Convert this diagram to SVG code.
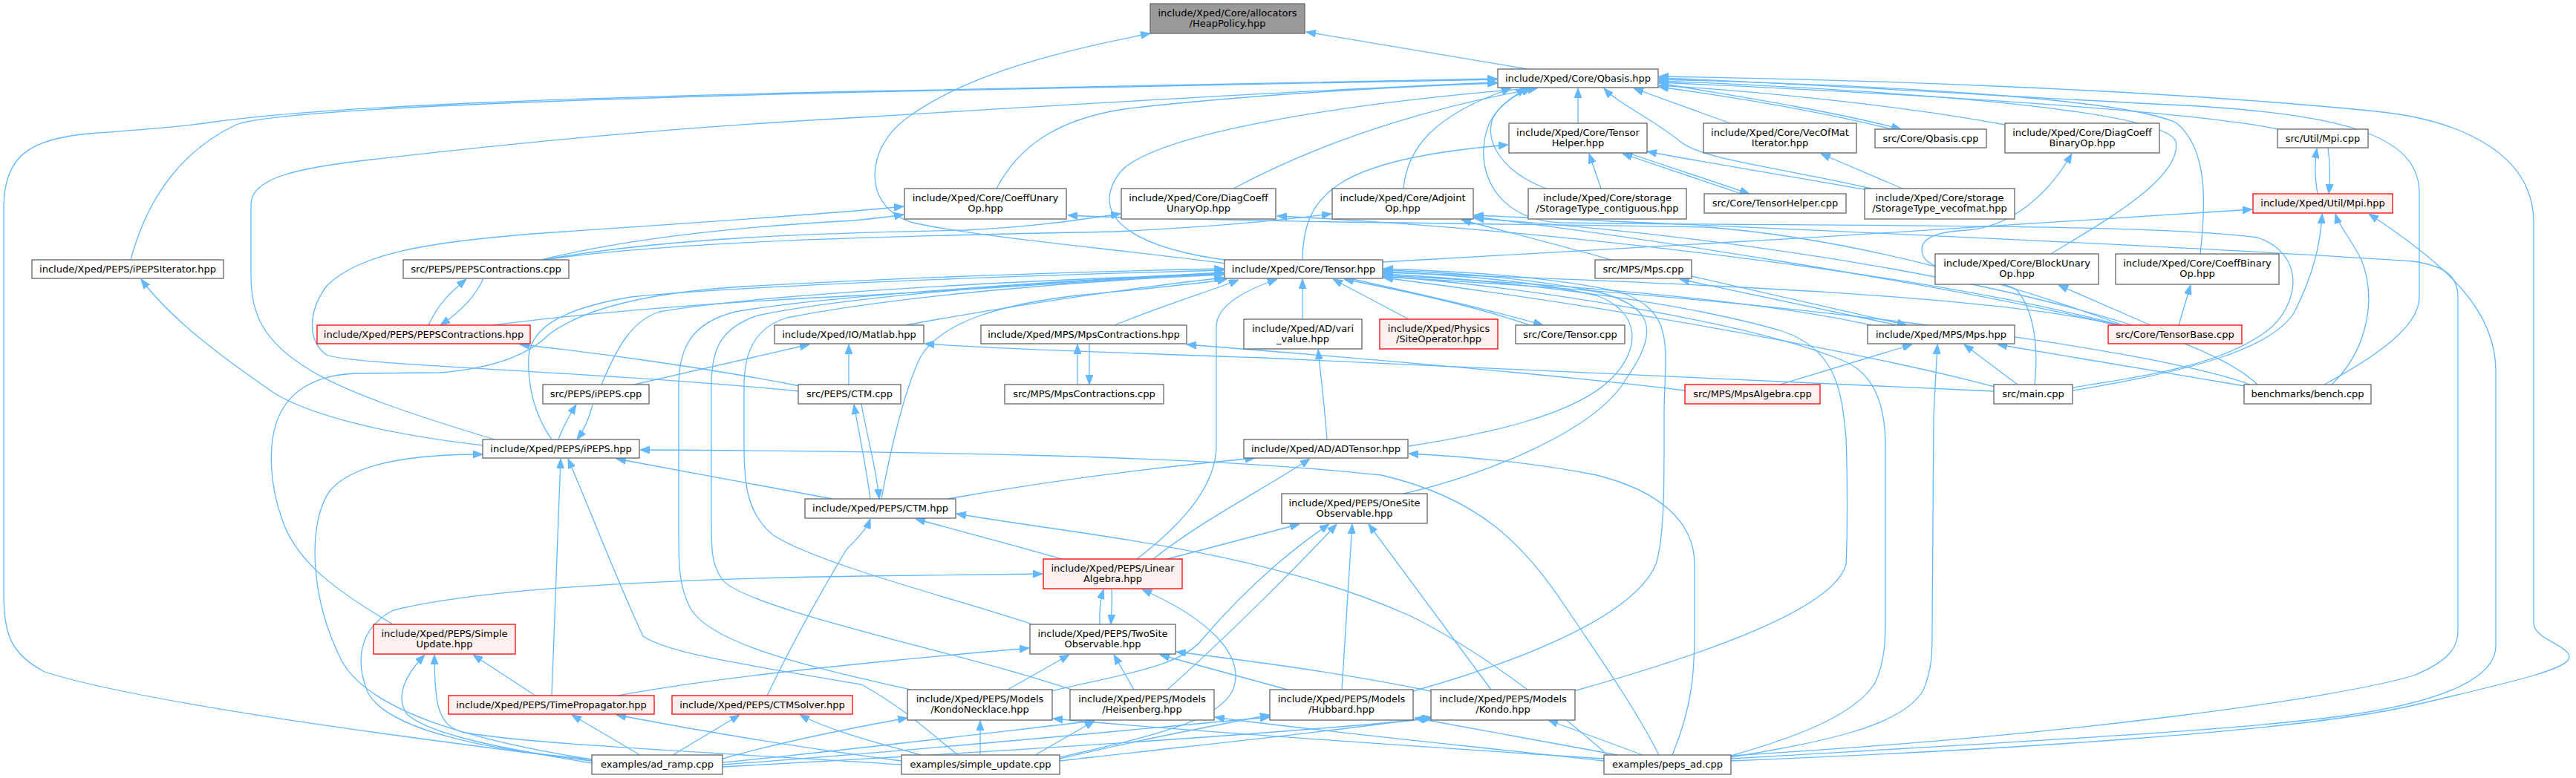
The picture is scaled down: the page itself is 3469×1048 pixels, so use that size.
<svg xmlns="http://www.w3.org/2000/svg" width="3469" height="1048" viewBox="0 0 3469 1048">
<defs>
<style>
.nd rect{fill:#ffffff;stroke:#666666;stroke-width:1.3}
.rd rect{fill:#fff0f0;stroke:#ff0000;stroke-width:1.3}
.hp rect{fill:#999999;stroke:#666666;stroke-width:1.3}
text{font-family:"DejaVu Sans","Liberation Sans",sans-serif;font-size:13px;text-anchor:middle;fill:#000000}
#edges path{fill:none;stroke:#63b8ff;stroke-width:1.3;marker-end:url(#a)}
</style>
<marker id="a" viewBox="0 0 13 10" refX="13" refY="5" markerWidth="13" markerHeight="10" markerUnits="userSpaceOnUse" orient="auto"><path d="M0,0 L13,5 L0,10 z" fill="#63b8ff" stroke="#63b8ff" stroke-width="1"/></marker>
</defs>
<rect x="0" y="0" width="3469" height="1048" fill="#ffffff"/>
<g id="edges">
<path d="M2057,93 L1759,43"/>
<path d="M1651,355 C1500,335 1320,320 1230,300 C1160,280 1165,200 1220,160 C1300,100 1430,68 1549,45"/>
<path d="M176,350 C200,260 250,200 318,168 C360,152 600,138 1160,124 C1500,116 1800,111 2016,107"/>
<path d="M797,1025 C600,1000 200,950 60,905 C12,880 5,850 5,800 L5,280 C5,210 40,187 120,180 C200,174 240,171 290,164 C450,142 800,131 1160,123 C1500,116 1800,111 2016,106"/>
<path d="M666,592 C560,560 470,530 420,500 C352,460 338,420 338,372 L338,275 C338,240 400,226 500,215 C700,192 900,172 1160,158 C1500,137 1800,120 2016,111"/>
<path d="M1342,254 C1370,200 1420,160 1520,146 C1700,126 1900,116 2016,112"/>
<path d="M1661,254 C1800,180 1950,140 2070,119"/>
<path d="M1890,254 C1895,200 1930,155 2035,119"/>
<path d="M1655,351 C1500,330 1470,280 1510,230 C1560,180 1800,140 2060,119"/>
<path d="M2125,166 L2125,119"/>
<path d="M2082,254 C2020,230 2000,190 2010,160 C2020,140 2040,128 2062,119"/>
<path d="M2520,254 C2400,226 2290,215 2262,190 C2225,160 2180,140 2160,119"/>
<path d="M2330,166 L2200,119"/>
<path d="M2548,174 C2450,150 2330,130 2234,117"/>
<path d="M2234,112 C2330,128 2470,150 2560,174"/>
<path d="M2700,168 C2550,140 2350,122 2234,115"/>
<path d="M3068,174 C2950,150 2600,128 2234,111"/>
<path d="M2762,342 C2830,300 2940,240 2930,190 C2910,150 2600,124 2234,109"/>
<path d="M2963,342 C2970,280 2975,200 2930,165 C2850,130 2500,114 2234,107"/>
<path d="M3130,518 C3200,480 3258,440 3258,400 L3258,260 C3258,180 3150,150 2900,140 C2600,124 2400,111 2234,105"/>
<path d="M2331,1025 C2700,1010 3100,985 3250,950 C3400,915 3460,900 3460,885 C3460,870 3412,860 3412,840 L3412,300 C3412,200 3300,160 3200,150 C2900,120 2500,107 2234,103"/>
<path d="M2791,522 C2900,505 3000,490 3060,440 C3100,400 3100,340 3040,320 C2900,300 2400,305 2100,300 C2020,295 1995,240 1998,200 C2000,160 2020,140 2055,119"/>
<path d="M1754,350 C1755,260 1800,215 2031,195"/>
<path d="M2156,254 L2140,207"/>
<path d="M2345,261 L2185,207"/>
<path d="M2192,206 L2356,261"/>
<path d="M2515,256 C2400,235 2300,220 2218,204"/>
<path d="M2562,254 L2452,207"/>
<path d="M2740,518 C2745,470 2740,420 2717,392 C2700,375 2600,370 2590,345 C2580,320 2610,312 2650,310 C2710,305 2760,260 2790,207"/>
<path d="M3121,261 C3117,240 3117,220 3120,200"/>
<path d="M3135,199 C3138,220 3138,240 3136,261"/>
<path d="M1862,353 C2200,335 2700,305 3033,282"/>
<path d="M2792,526 C2950,500 3060,470 3090,420 C3115,370 3125,330 3127,288"/>
<path d="M3140,518 C3190,470 3200,400 3180,350 C3165,320 3150,305 3145,288"/>
<path d="M2331,1022 C2700,1000 3000,985 3150,965 C3300,945 3361,910 3361,870 L3361,500 C3361,420 3300,360 3190,288"/>
<path d="M2331,1018 C2800,990 3150,940 3250,910 C3300,890 3310,870 3310,850 L3310,400 C3310,370 3290,358 3250,352 C3000,335 2500,312 1985,290"/>
<path d="M2896,438 L2772,384"/>
<path d="M2934,438 L2950,384"/>
<path d="M2717,518 L2645,464"/>
<path d="M2397,518 L2575,464"/>
<path d="M2331,1020 C2450,1000 2560,980 2590,930 C2602,900 2602,880 2602,850 L2604,560 L2609,464"/>
<path d="M3023,520 L2690,464"/>
<path d="M2555,438 L2262,376"/>
<path d="M2278,372 L2568,438"/>
<path d="M2170,350 C2100,330 2020,310 1968,296"/>
<path d="M664,438 C800,420 1000,405 1160,398 C1350,388 1500,376 1648,368"/>
<path d="M529,841 C460,800 400,760 380,700 C362,650 362,600 372,570 C385,530 420,505 480,503 L592,502 C680,495 720,470 740,450 C780,420 860,395 1000,386 C1200,375 1450,366 1648,362"/>
<path d="M810,518 C830,470 850,432 888,420 C1000,400 1300,380 1648,369"/>
<path d="M743,592 C720,560 710,520 712,480 C715,440 760,415 850,400 C1000,385 1350,372 1648,364"/>
<path d="M1226,929 C1100,900 960,870 930,820 C914,790 914,760 914,720 L914,520 C914,470 930,435 990,420 C1100,400 1400,380 1648,367"/>
<path d="M1443,929 C1300,880 1000,820 972,780 C958,760 958,740 958,700 L958,520 C958,470 970,442 1020,425 C1150,398 1400,380 1648,368"/>
<path d="M1390,841 C1300,810 1100,760 1040,720 C1005,690 1002,650 1002,600 L1002,520 C1002,470 1020,440 1060,428 C1200,400 1450,378 1648,370"/>
<path d="M1219,438 C1400,405 1550,385 1648,374"/>
<path d="M1501,438 C1570,410 1630,392 1668,377"/>
<path d="M1754,430 L1754,376"/>
<path d="M1897,430 L1795,376"/>
<path d="M2060,438 C1980,410 1880,390 1810,376"/>
<path d="M1818,375 C1890,392 1990,412 2078,438"/>
<path d="M1897,601 C2000,585 2120,560 2170,510 C2210,470 2210,420 2150,398 C2050,376 1950,370 1863,366"/>
<path d="M1890,665 C2000,640 2150,580 2190,510 C2240,440 2220,410 2150,393 C2050,373 1950,367 1863,364"/>
<path d="M1903,931 C2050,890 2200,830 2230,760 C2242,720 2241,650 2241,560 C2241,470 2260,420 2180,393 C2080,371 1950,365 1863,362"/>
<path d="M2119,931 C2300,880 2470,820 2486,760 C2488,720 2488,640 2486,590 C2480,520 2470,470 2400,446 C2250,402 2000,376 1863,369"/>
<path d="M2331,1018 C2430,990 2500,960 2525,920 C2539,890 2539,860 2539,830 L2539,600 C2539,540 2520,500 2480,485 C2350,432 2050,386 1863,372"/>
<path d="M1531,753 C1600,700 1638,650 1638,600 L1638,440 C1638,410 1680,390 1720,376"/>
<path d="M1187,672 C1200,600 1220,520 1240,480 C1270,432 1350,410 1450,398 C1550,388 1620,382 1652,376"/>
<path d="M2520,438 C2350,400 2050,380 1863,371"/>
<path d="M2850,438 C2700,400 2300,382 1863,367"/>
<path d="M2853,438 C2600,380 2200,318 1985,292"/>
<path d="M2856,438 C2600,370 2100,310 1720,291"/>
<path d="M2859,438 C2700,380 2500,322 2300,306 C2000,301 1600,298 1438,290"/>
<path d="M2685,527 C2400,515 2000,495 1700,482 C1500,475 1350,470 1245,463"/>
<path d="M2686,521 C2600,498 2300,430 1863,374"/>
<path d="M2269,526 C2100,505 1800,480 1598,464"/>
<path d="M3030,518 C2900,470 2400,402 1863,373"/>
<path d="M3040,518 C2950,430 2500,330 1985,294"/>
<path d="M1121,672 L830,618"/>
<path d="M1276,672 C1400,650 1550,630 1690,617"/>
<path d="M1172,672 C1165,620 1156,580 1150,545"/>
<path d="M1160,544 C1168,590 1180,630 1184,672"/>
<path d="M1077,520 C950,495 800,475 700,464"/>
<path d="M1143,518 L1143,464"/>
<path d="M1077,527 C800,500 470,492 440,478 C414,460 414,420 440,385 C480,345 560,325 760,312 C1000,296 1150,285 1217,278"/>
<path d="M752,592 C760,570 768,558 776,545"/>
<path d="M798,545 C793,565 786,580 777,592"/>
<path d="M854,518 L1090,464"/>
<path d="M651,600 C520,585 420,560 370,530 C300,482 230,430 190,376"/>
<path d="M743,937 L755,618"/>
<path d="M797,1023 C650,1000 500,962 460,890 C415,800 415,700 445,660 C480,622 560,612 650,612"/>
<path d="M1290,1017 C1250,985 1215,952 1160,922 C1000,895 900,880 866,857 C830,780 800,700 765,618"/>
<path d="M2234,1017 C2200,950 2150,880 2110,820 C2050,730 1990,670 1860,640 C1600,612 1200,608 862,606"/>
<path d="M2252,1017 C2280,950 2282,900 2282,850 L2282,760 C2282,700 2230,660 2150,640 C2050,620 1950,614 1897,611"/>
<path d="M2165,1017 C2100,960 2000,880 1900,830 C1700,740 1450,720 1288,692"/>
<path d="M2160,1022 C1900,1005 1600,985 1418,968"/>
<path d="M2160,1025 C1950,1002 1750,982 1636,966"/>
<path d="M2178,1017 L1905,967"/>
<path d="M2212,1017 L2085,970"/>
<path d="M1787,592 C1783,540 1778,500 1775,471"/>
<path d="M1553,753 C1620,700 1700,660 1764,618"/>
<path d="M1572,753 L1750,706"/>
<path d="M1416,931 C1500,910 1590,900 1620,860 C1680,790 1740,740 1790,706"/>
<path d="M1572,929 C1650,860 1750,760 1800,706"/>
<path d="M1807,929 L1821,706"/>
<path d="M2008,929 L1843,706"/>
<path d="M1430,753 C1350,730 1280,712 1233,699"/>
<path d="M797,1023 C650,1010 520,982 495,932 C475,882 490,842 530,822 C650,792 900,780 1160,776 C1250,775 1330,774 1404,773"/>
<path d="M1481,841 C1480,820 1482,807 1486,794"/>
<path d="M1497,794 C1498,810 1497,825 1496,841"/>
<path d="M1427,1020 C1550,992 1640,972 1660,930 C1680,880 1620,830 1538,794"/>
<path d="M832,937 C950,915 1100,900 1200,890 C1280,882 1340,877 1386,873"/>
<path d="M1357,929 L1440,882"/>
<path d="M1527,929 L1500,882"/>
<path d="M1734,929 L1562,882"/>
<path d="M1927,931 C1800,905 1680,890 1584,878"/>
<path d="M1320,1017 L1320,971"/>
<path d="M1394,1017 L1474,971"/>
<path d="M1427,1022 C1520,1000 1620,980 1710,963"/>
<path d="M1427,1025 C1600,1005 1800,985 1928,966"/>
<path d="M973,1022 C1050,1000 1150,980 1222,967"/>
<path d="M973,1027 C1150,1010 1350,985 1474,971"/>
<path d="M973,1030 C1250,1010 1500,985 1710,966"/>
<path d="M973,1033 C1300,1015 1700,990 1928,968"/>
<path d="M862,1017 L770,963"/>
<path d="M906,1017 L996,963"/>
<path d="M797,1028 C700,1012 580,992 548,962 C530,935 550,905 572,882"/>
<path d="M1214,1030 C1000,1016 700,1002 622,986 C590,976 585,950 585,882"/>
<path d="M1214,1025 C1100,1010 950,986 830,963"/>
<path d="M1240,1017 C1180,1000 1120,985 1077,963"/>
<path d="M721,937 L637,882"/>
<path d="M1033,937 C1070,860 1110,790 1140,740 C1160,720 1168,710 1172,699"/>
<path d="M577,438 C590,410 605,395 628,376"/>
<path d="M651,375 C640,400 620,420 593,438"/>
<path d="M729,350 C850,320 1000,305 1150,297 C1180,294 1200,292 1217,289"/>
<path d="M731,350 C900,320 1100,314 1300,310 C1400,305 1460,295 1509,288"/>
<path d="M733,350 C900,325 1200,318 1500,312 C1650,305 1740,295 1793,288"/>
<path d="M1451,518 L1451,464"/>
<path d="M1467,464 L1467,518"/>
</g>
<g id="n_heappolicy" class="hp"><rect x="1549" y="5" width="208" height="40"/><text x="1653" y="22">include/Xped/Core/allocators</text><text x="1653" y="36">/HeapPolicy.hpp</text></g>
<g id="n_qbasis" class="nd"><rect x="2017" y="93" width="216" height="25"/><text x="2125" y="110">include/Xped/Core/Qbasis.hpp</text></g>
<g id="n_tensorhelper" class="nd"><rect x="2032" y="166" width="186" height="40"/><text x="2125" y="183">include/Xped/Core/Tensor</text><text x="2125" y="197">Helper.hpp</text></g>
<g id="n_vecofmat" class="nd"><rect x="2294" y="166" width="206" height="40"/><text x="2397" y="183">include/Xped/Core/VecOfMat</text><text x="2397" y="197">Iterator.hpp</text></g>
<g id="n_qbasiscpp" class="nd"><rect x="2525" y="174" width="150" height="25"/><text x="2600" y="191">src/Core/Qbasis.cpp</text></g>
<g id="n_diagcoeffbinary" class="nd"><rect x="2700" y="166" width="208" height="40"/><text x="2804" y="183">include/Xped/Core/DiagCoeff</text><text x="2804" y="197">BinaryOp.hpp</text></g>
<g id="n_mpicpp" class="nd"><rect x="3067" y="174" width="122" height="25"/><text x="3128" y="191">src/Util/Mpi.cpp</text></g>
<g id="n_coeffunary" class="nd"><rect x="1218" y="254" width="218" height="41"/><text x="1327" y="271">include/Xped/Core/CoeffUnary</text><text x="1327" y="285">Op.hpp</text></g>
<g id="n_diagcoeffunary" class="nd"><rect x="1510" y="254" width="208" height="41"/><text x="1614" y="271">include/Xped/Core/DiagCoeff</text><text x="1614" y="285">UnaryOp.hpp</text></g>
<g id="n_adjoint" class="nd"><rect x="1794" y="254" width="190" height="41"/><text x="1889" y="271">include/Xped/Core/Adjoint</text><text x="1889" y="285">Op.hpp</text></g>
<g id="n_contiguous" class="nd"><rect x="2058" y="254" width="213" height="41"/><text x="2164.5" y="271">include/Xped/Core/storage</text><text x="2164.5" y="285">/StorageType_contiguous.hpp</text></g>
<g id="n_tensorhelpercpp" class="nd"><rect x="2295" y="261" width="191" height="26"/><text x="2390.5" y="278">src/Core/TensorHelper.cpp</text></g>
<g id="n_vecofmatstorage" class="nd"><rect x="2511" y="254" width="202" height="41"/><text x="2612" y="271">include/Xped/Core/storage</text><text x="2612" y="285">/StorageType_vecofmat.hpp</text></g>
<g id="n_mpihpp" class="rd"><rect x="3034" y="261" width="188" height="26"/><text x="3128" y="278">include/Xped/Util/Mpi.hpp</text></g>
<g id="n_ipepsiterator" class="nd"><rect x="43" y="350" width="258" height="25"/><text x="172" y="367">include/Xped/PEPS/iPEPSIterator.hpp</text></g>
<g id="n_pepscontrcpp" class="nd"><rect x="543" y="350" width="223" height="25"/><text x="654.5" y="367">src/PEPS/PEPSContractions.cpp</text></g>
<g id="n_tensor" class="nd"><rect x="1649" y="350" width="213" height="25"/><text x="1755.5" y="367">include/Xped/Core/Tensor.hpp</text></g>
<g id="n_mpscpp" class="nd"><rect x="2148" y="350" width="130" height="25"/><text x="2213" y="367">src/MPS/Mps.cpp</text></g>
<g id="n_blockunary" class="nd"><rect x="2606" y="342" width="220" height="41"/><text x="2716" y="359">include/Xped/Core/BlockUnary</text><text x="2716" y="373">Op.hpp</text></g>
<g id="n_coeffbinary" class="nd"><rect x="2849" y="342" width="220" height="41"/><text x="2959" y="359">include/Xped/Core/CoeffBinary</text><text x="2959" y="373">Op.hpp</text></g>
<g id="n_pepscontrhpp" class="rd"><rect x="427" y="438" width="287" height="25"/><text x="570.5" y="455">include/Xped/PEPS/PEPSContractions.hpp</text></g>
<g id="n_matlab" class="nd"><rect x="1043" y="438" width="201" height="25"/><text x="1143.5" y="455">include/Xped/IO/Matlab.hpp</text></g>
<g id="n_mpscontrhpp" class="nd"><rect x="1321" y="438" width="277" height="25"/><text x="1459.5" y="455">include/Xped/MPS/MpsContractions.hpp</text></g>
<g id="n_varivalue" class="nd"><rect x="1675" y="430" width="159" height="40"/><text x="1754.5" y="447">include/Xped/AD/vari</text><text x="1754.5" y="461">_value.hpp</text></g>
<g id="n_siteoperator" class="rd"><rect x="1858" y="430" width="159" height="40"/><text x="1937.5" y="447">include/Xped/Physics</text><text x="1937.5" y="461">/SiteOperator.hpp</text></g>
<g id="n_tensorcpp" class="nd"><rect x="2041" y="438" width="147" height="25"/><text x="2114.5" y="455">src/Core/Tensor.cpp</text></g>
<g id="n_mpshpp" class="nd"><rect x="2515" y="438" width="198" height="25"/><text x="2614" y="455">include/Xped/MPS/Mps.hpp</text></g>
<g id="n_tensorbase" class="rd"><rect x="2839" y="438" width="180" height="25"/><text x="2929" y="455">src/Core/TensorBase.cpp</text></g>
<g id="n_ipepscpp" class="nd"><rect x="731" y="518" width="143" height="26"/><text x="802.5" y="535">src/PEPS/iPEPS.cpp</text></g>
<g id="n_ctmcpp" class="nd"><rect x="1075" y="518" width="138" height="26"/><text x="1144" y="535">src/PEPS/CTM.cpp</text></g>
<g id="n_mpscontrcpp" class="nd"><rect x="1353" y="518" width="214" height="26"/><text x="1460" y="535">src/MPS/MpsContractions.cpp</text></g>
<g id="n_mpsalgebra" class="rd"><rect x="2269" y="518" width="182" height="26"/><text x="2360" y="535">src/MPS/MpsAlgebra.cpp</text></g>
<g id="n_main" class="nd"><rect x="2685" y="518" width="106" height="26"/><text x="2738" y="535">src/main.cpp</text></g>
<g id="n_bench" class="nd"><rect x="3022" y="518" width="171" height="26"/><text x="3107.5" y="535">benchmarks/bench.cpp</text></g>
<g id="n_ipepshpp" class="nd"><rect x="650" y="592" width="211" height="25"/><text x="755.5" y="609">include/Xped/PEPS/iPEPS.hpp</text></g>
<g id="n_adtensor" class="nd"><rect x="1675" y="592" width="221" height="25"/><text x="1785.5" y="609">include/Xped/AD/ADTensor.hpp</text></g>
<g id="n_ctmhpp" class="nd"><rect x="1084" y="672" width="203" height="26"/><text x="1185.5" y="689">include/Xped/PEPS/CTM.hpp</text></g>
<g id="n_onesite" class="nd"><rect x="1726" y="665" width="196" height="40"/><text x="1824" y="682">include/Xped/PEPS/OneSite</text><text x="1824" y="696">Observable.hpp</text></g>
<g id="n_linalg" class="rd"><rect x="1405" y="753" width="187" height="40"/><text x="1498.5" y="770">include/Xped/PEPS/Linear</text><text x="1498.5" y="784">Algebra.hpp</text></g>
<g id="n_simpleupdate" class="rd"><rect x="503" y="841" width="191" height="40"/><text x="598.5" y="858">include/Xped/PEPS/Simple</text><text x="598.5" y="872">Update.hpp</text></g>
<g id="n_twosite" class="nd"><rect x="1387" y="841" width="196" height="40"/><text x="1485" y="858">include/Xped/PEPS/TwoSite</text><text x="1485" y="872">Observable.hpp</text></g>
<g id="n_timeprop" class="rd"><rect x="604" y="937" width="277" height="25"/><text x="742.5" y="954">include/Xped/PEPS/TimePropagator.hpp</text></g>
<g id="n_ctmsolver" class="rd"><rect x="905" y="937" width="243" height="25"/><text x="1026.5" y="954">include/Xped/PEPS/CTMSolver.hpp</text></g>
<g id="n_kondonecklace" class="nd"><rect x="1222" y="929" width="195" height="41"/><text x="1319.5" y="946">include/Xped/PEPS/Models</text><text x="1319.5" y="960">/KondoNecklace.hpp</text></g>
<g id="n_heisenberg" class="nd"><rect x="1441" y="929" width="194" height="41"/><text x="1538" y="946">include/Xped/PEPS/Models</text><text x="1538" y="960">/Heisenberg.hpp</text></g>
<g id="n_hubbard" class="nd"><rect x="1710" y="929" width="193" height="41"/><text x="1806.5" y="946">include/Xped/PEPS/Models</text><text x="1806.5" y="960">/Hubbard.hpp</text></g>
<g id="n_kondo" class="nd"><rect x="1927" y="929" width="194" height="41"/><text x="2024" y="946">include/Xped/PEPS/Models</text><text x="2024" y="960">/Kondo.hpp</text></g>
<g id="n_adramp" class="nd"><rect x="797" y="1017" width="176" height="26"/><text x="885" y="1034">examples/ad_ramp.cpp</text></g>
<g id="n_simpleupdatecpp" class="nd"><rect x="1214" y="1017" width="213" height="26"/><text x="1320.5" y="1034">examples/simple_update.cpp</text></g>
<g id="n_pepsad" class="nd"><rect x="2160" y="1017" width="171" height="26"/><text x="2245.5" y="1034">examples/peps_ad.cpp</text></g>
</svg>
